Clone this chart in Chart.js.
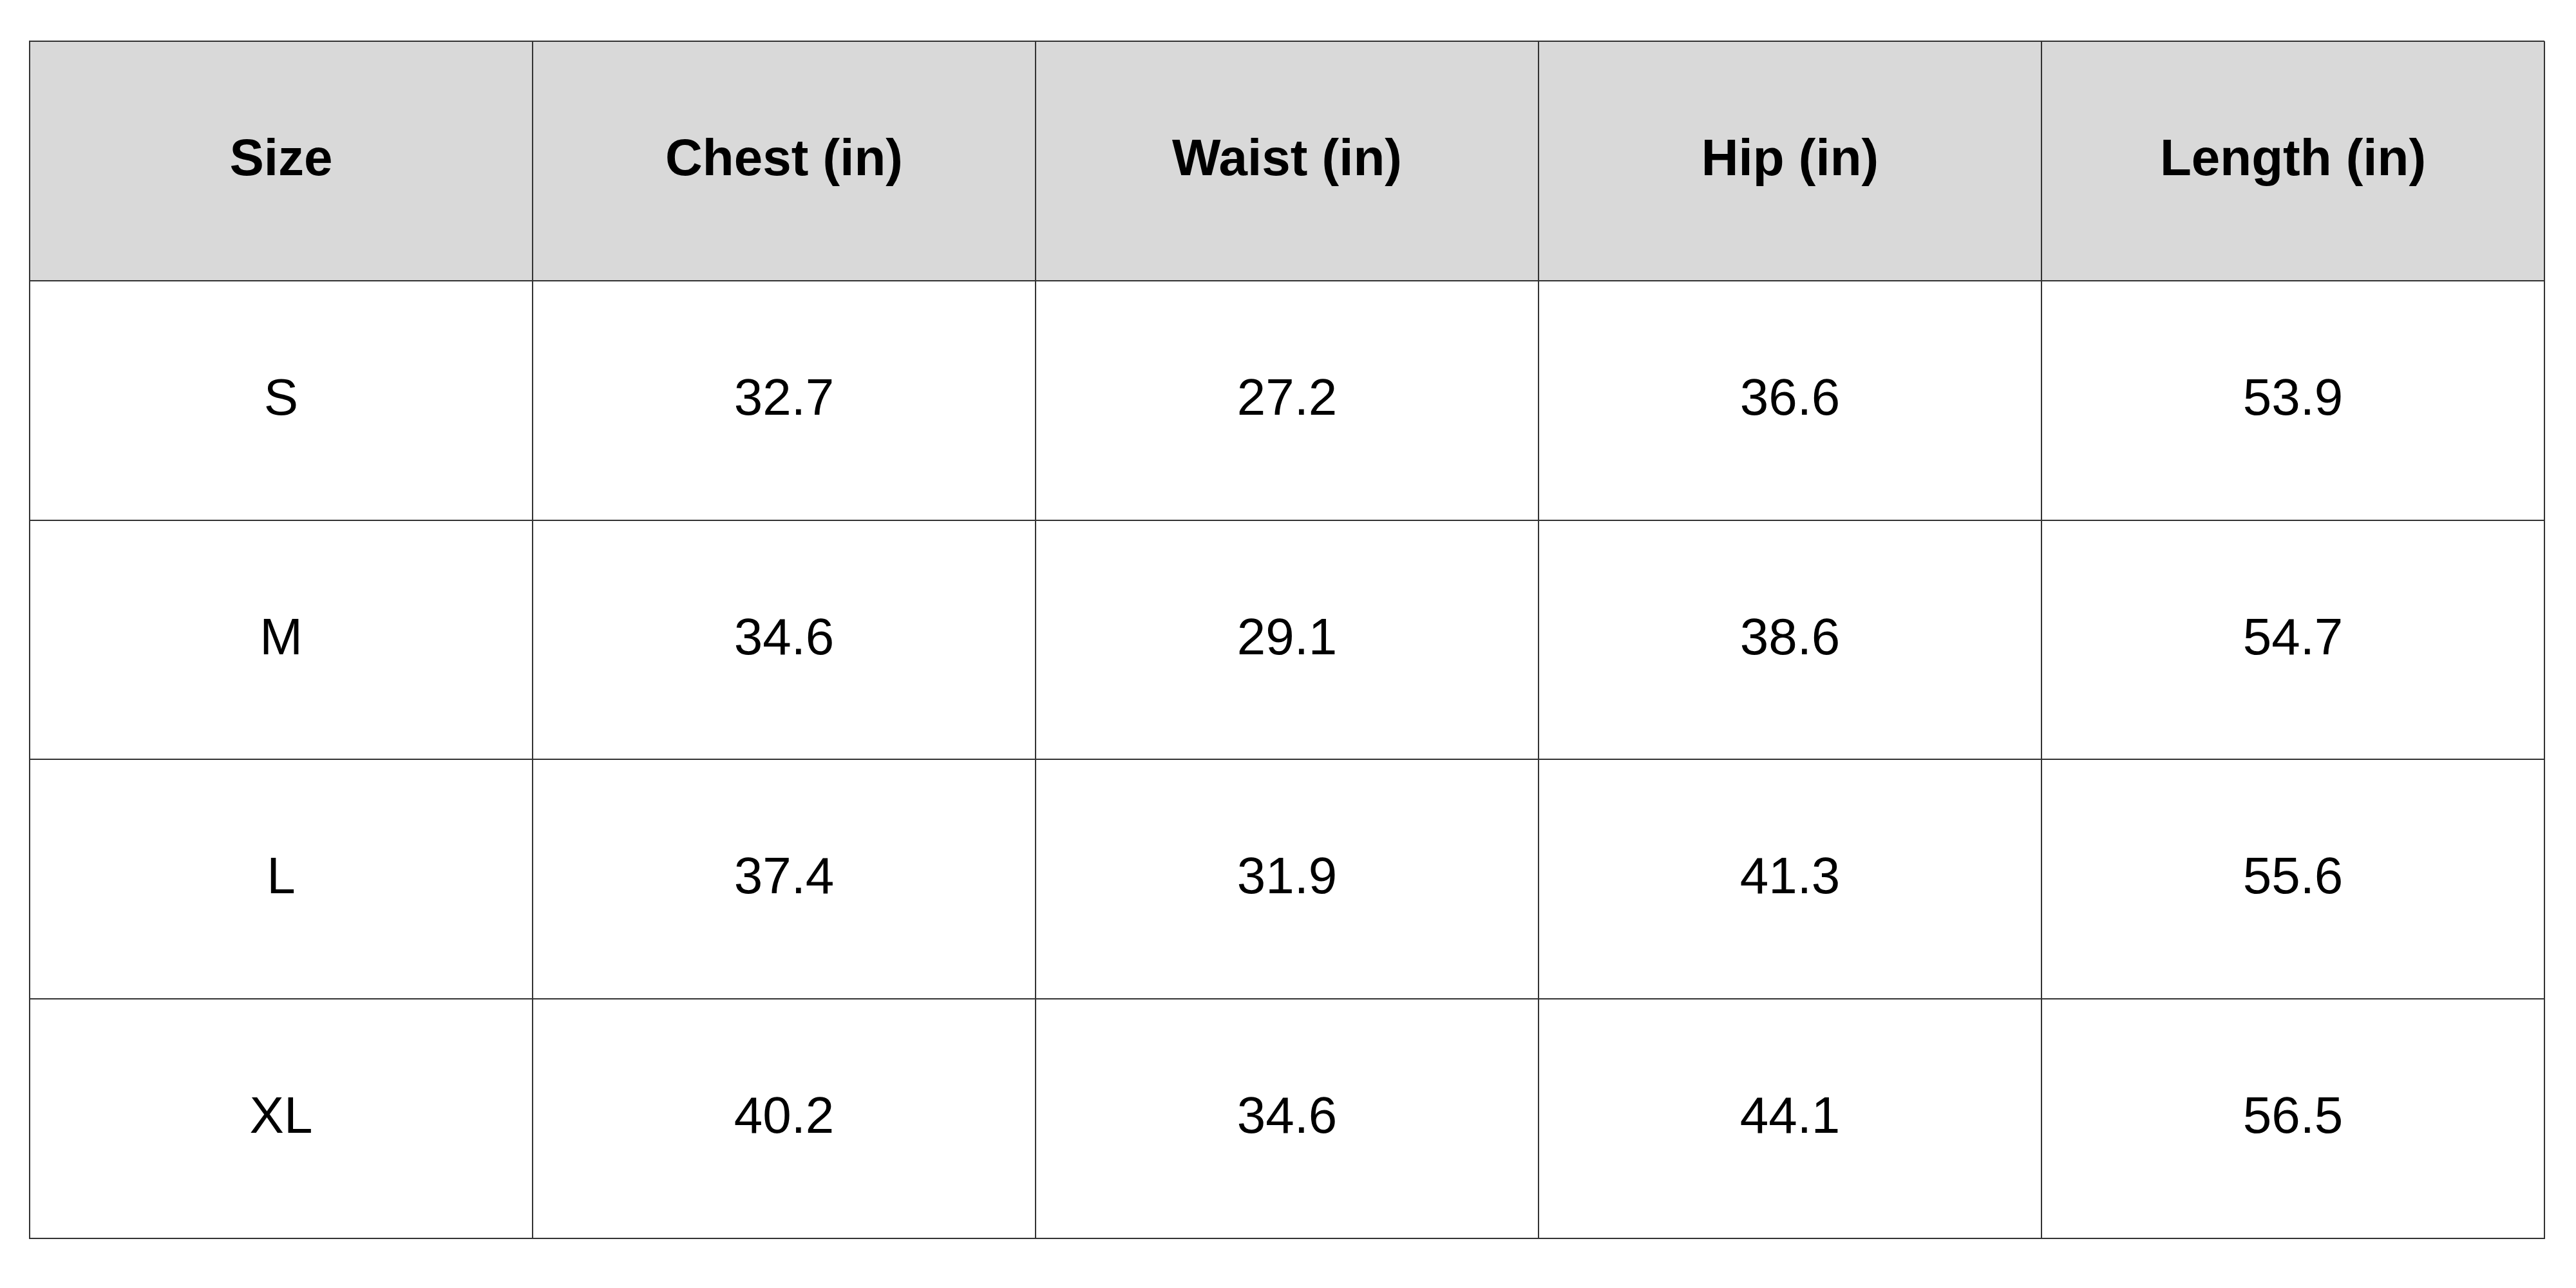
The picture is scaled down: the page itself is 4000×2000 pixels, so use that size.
<!DOCTYPE html>
<html>
<head>
<meta charset="utf-8">
<script src="https://cdn.jsdelivr.net/npm/chart.js@4"></script>
<style>
  html, body { margin: 0; padding: 0; background: #fff; }
  #wrap { width: 4000px; height: 2000px; }
</style>
</head>
<body>
<div id="wrap"><canvas id="c"></canvas></div>
<script>
// ── Data ──────────────────────────────────────────────────────────────────────
const headers = ['Size', 'Chest (in)', 'Waist (in)', 'Hip (in)', 'Length (in)'];
const sizes   = ['S', 'M', 'L', 'XL'];
const chest   = [32.7, 34.6, 37.4, 40.2];
const waist   = [27.2, 29.1, 31.9, 34.6];
const hip     = [36.6, 38.6, 41.3, 44.1];
const lengths = [53.9, 54.7, 55.6, 56.5];

const columns = [sizes, chest, waist, hip, lengths];
const nCols = headers.length;
const nRows = sizes.length + 1;

// ── Table plugin: header fill + cell text, positioned by the scales ──────────
const tablePlugin = {
  id: 'tableCells',
  beforeDraw(chart) {
    const { ctx, scales: { x, y } } = chart;
    ctx.save();
    ctx.fillStyle = '#d9d9d9';
    const top = y.getPixelForValue(0), bot = y.getPixelForValue(1);
    ctx.fillRect(x.getPixelForValue(0), top, x.getPixelForValue(nCols) - x.getPixelForValue(0), bot - top);
    ctx.restore();
  },
  afterDraw(chart) {
    const { ctx, scales: { x, y } } = chart;
    ctx.save();
    ctx.fillStyle = '#000';
    ctx.textAlign = 'center';
    ctx.textBaseline = 'middle';
    headers.forEach((h, c) => {
      ctx.font = 'bold 80px "Liberation Sans", Arial, sans-serif';
      ctx.fillText(h, x.getPixelForValue(c + 0.5), y.getPixelForValue(0.5));
    });
    columns.forEach((col, c) => {
      col.forEach((v, r) => {
        ctx.font = '80px "Liberation Sans", Arial, sans-serif';
        const txt = typeof v === 'number' ? v.toFixed(1) : v;
        ctx.fillText(txt, x.getPixelForValue(c + 0.5), y.getPixelForValue(r + 1.5));
      });
    });
    ctx.restore();
  }
};

const gridOpts = (max) => ({
  type: 'linear', min: 0, max,
  ticks: { display: false, stepSize: 1 },
  grid: { color: '#333', lineWidth: 2, drawTicks: false },
  border: { display: true, color: '#333', width: 2 }
});

new Chart(document.getElementById('c'), {
  type: 'scatter',
  data: { datasets: [{ data: [] }] },
  options: {
    responsive: true,
    maintainAspectRatio: false,
    animation: false,
    layout: { padding: { left: 46, right: 49, top: 64, bottom: 77 } },
    plugins: { legend: { display: false }, tooltip: { enabled: false } },
    scales: {
      x: gridOpts(nCols),
      y: Object.assign(gridOpts(nRows), { reverse: true })
    }
  },
  plugins: [tablePlugin]
});
</script>
</body>
</html>
